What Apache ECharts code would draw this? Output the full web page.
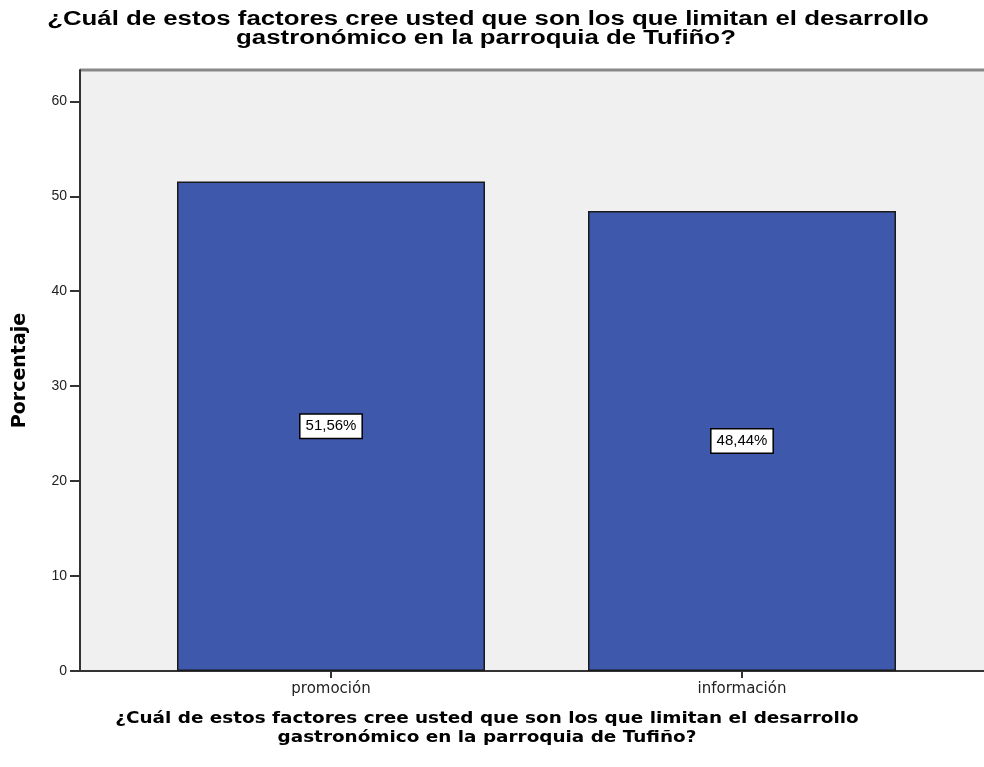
<!DOCTYPE html>
<html>
<head>
<meta charset="utf-8">
<script src="https://cdn.jsdelivr.net/npm/echarts@6/dist/echarts.min.js"></script>
<style>html,body{margin:0;padding:0;background:#fff}#c{width:984px;height:767px}</style>
</head>
<body>
<div id="c"></div>
<script>
const titleLines = ["¿Cuál de estos factores cree usted que son los que limitan el desarrollo", "gastronómico en la parroquia de Tufiño?"];
const xAxisTitleLines = ["¿Cuál de estos factores cree usted que son los que limitan el desarrollo", "gastronómico en la parroquia de Tufiño?"];
const yAxisTitle = "Porcentaje";
const categories = ["promoción", "información"];
const values = [51.56, 48.44];
const yTicks = [0, 10, 20, 30, 40, 50, 60];

const catPos = categories.map((c, i) => i + 1);
const chart = echarts.init(document.getElementById('c'), null, {renderer: 'canvas'});

function lineText(txt, x, y, font, size, sx) {
  return {type: 'text', x: x, y: y, scaleX: sx, silent: true,
    style: {text: txt, align: 'center', verticalAlign: 'middle', fill: '#000',
      font: 'bold ' + size + 'px "' + font + '"'}};
}

chart.setOption({
  animation: false,
  grid: {left: 80, top: 70, right: 0, bottom: 96, backgroundColor: '#f0f0f0', show: true, borderWidth: 0},
  xAxis: {
    type: 'value', min: 0.3893, max: 2.5888,
    splitLine: {show: false},
    axisLine: {show: true, lineStyle: {color: '#333', width: 2}},
    axisTick: {show: true, customValues: catPos, length: 7, lineStyle: {color: '#333', width: 2}},
    axisLabel: {customValues: catPos, formatter: v => categories[Math.round(v) - 1] || '',
      fontFamily: 'DejaVu Sans', fontSize: 15, color: '#222', margin: 11}
  },
  yAxis: {
    type: 'value', min: 0, max: 63.3,
    name: yAxisTitle, nameLocation: 'middle', nameGap: 50, nameRotate: 90,
    nameTextStyle: {fontFamily: 'DejaVu Sans', fontWeight: 'bold', fontSize: 19, color: '#000'},
    splitLine: {show: false},
    axisLine: {show: true, lineStyle: {color: '#333', width: 2}},
    axisTick: {show: true, customValues: yTicks, length: 10, lineStyle: {color: '#333', width: 2}},
    axisLabel: {customValues: yTicks, fontFamily: 'Liberation Sans', fontSize: 14, color: '#222', margin: 13}
  },
  graphic: [
    lineText(titleLines[0], 488, 19, 'Liberation Sans', 20, 1.29),
    lineText(titleLines[1], 486, 38, 'Liberation Sans', 20, 1.29),
    lineText(xAxisTitleLines[0], 487, 719, 'DejaVu Sans', 16, 1.15),
    lineText(xAxisTitleLines[1], 487, 738, 'DejaVu Sans', 16, 1.15),
    {type: 'line', silent: true, shape: {x1: 80, y1: 70, x2: 984, y2: 70}, style: {stroke: '#888', lineWidth: 3}}
  ],
  series: [{
    type: 'bar',
    data: catPos.map((p, i) => [p, values[i]]),
    barWidth: 308,
    itemStyle: {color: '#3e58ac', borderColor: '#1a1a1a', borderWidth: 1.5},
    label: {show: true, position: 'inside',
      formatter: p => p.value[1].toFixed(2).replace('.', ',') + '%',
      fontFamily: 'Liberation Sans', fontSize: 15, color: '#000',
      backgroundColor: '#fff', borderColor: '#000', borderWidth: 1.5, padding: [5, 5, 3, 5]}
  }]
});
</script>
</body>
</html>
